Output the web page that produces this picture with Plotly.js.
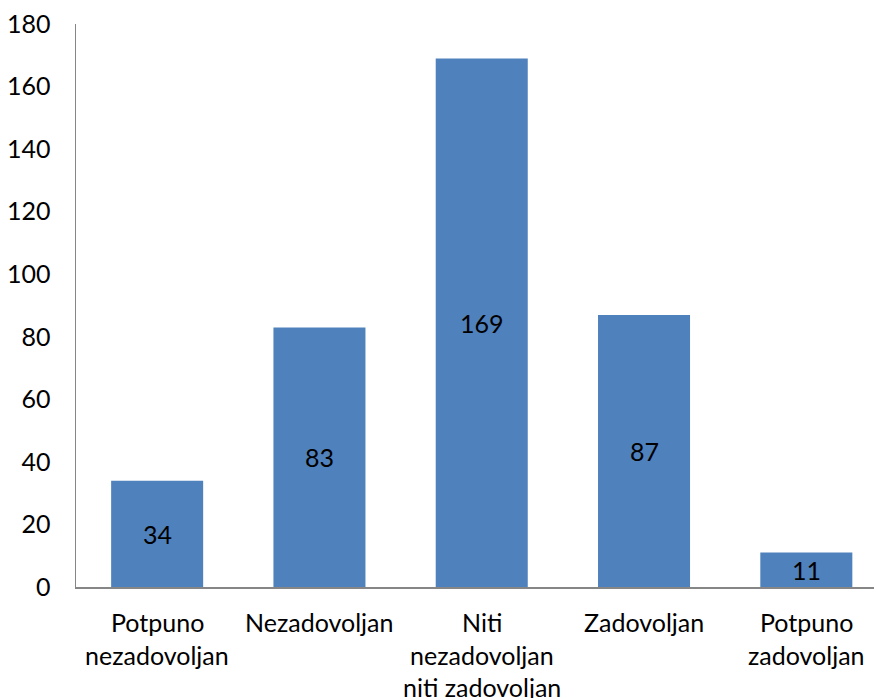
<!DOCTYPE html>
<html>
<head>
<meta charset="utf-8">
<script src="https://cdn.plot.ly/plotly-3.0.1.min.js"></script>
<style>
  html, body { margin: 0; padding: 0; background: #fff; }
  #chart { width: 874px; height: 698px; }
</style>
</head>
<body>
<div id="chart"></div>
<script>
// Satisfaction survey: number of responses per answer
const categories = ["Potpuno nezadovoljan", "Nezadovoljan", "Niti nezadovoljan niti zadovoljan", "Zadovoljan", "Potpuno zadovoljan"];
const categoryLines = [
  ["Potpuno", "nezadovoljan"],
  ["Nezadovoljan"],
  ["Niti", "nezadovoljan", "niti zadovoljan"],
  ["Zadovoljan"],
  ["Potpuno", "zadovoljan"]
];
const counts = [34, 83, 169, 87, 11];
const yTicks = [0, 20, 40, 60, 80, 100, 120, 140, 160, 180];

const FONT = "Lato, 'Open Sans', sans-serif";
const FSIZE = 25;
const W = 874, H = 698;
const margin = { l: 76, r: 0, t: 24, b: 111 };
const plotH = H - margin.t - margin.b;

const annotations = [];

// Value labels centred inside each bar, kept at full size and horizontal
counts.forEach((v, i) => {
  annotations.push({
    x: categories[i], xref: "x",
    y: v / 2, yref: "y",
    text: String(v), showarrow: false,
    xanchor: "center", yanchor: "middle",
    font: { family: FONT, size: FSIZE, color: "#000" }
  });
});

// Multi-line category labels drawn line by line under each bar
categoryLines.forEach((lines, i) => {
  lines.forEach((txt, j) => {
    annotations.push({
      x: categories[i], xref: "x",
      y: -(35 + 32.5 * j) / plotH, yref: "paper",
      text: txt, showarrow: false,
      xanchor: "center", yanchor: "middle",
      font: { family: FONT, size: FSIZE, color: "#000" }
    });
  });
});

const trace = {
  type: "bar",
  x: categories,
  y: counts,
  marker: { color: "#4F81BD", line: { width: 0 } },
  width: 0.567,
  hoverinfo: "x+y"
};

const layout = {
  width: W, height: H,
  margin: margin,
  paper_bgcolor: "#fff",
  plot_bgcolor: "#fff",
  showlegend: false,
  font: { family: FONT, size: FSIZE, color: "#000" },
  xaxis: {
    type: "category",
    range: [-0.5, 4.417],
    showticklabels: false,
    showgrid: false,
    zeroline: false,
    showline: true,
    linecolor: "#868686",
    linewidth: 1.5,
    ticks: ""
  },
  yaxis: {
    range: [0, 180],
    tickvals: yTicks,
    ticktext: yTicks.map(String),
    showgrid: false,
    zeroline: false,
    showline: true,
    linecolor: "#868686",
    linewidth: 1.5,
    ticks: "outside",
    ticklen: 19,
    tickcolor: "rgba(0,0,0,0)",
    tickfont: { family: FONT, size: FSIZE, color: "#000" }
  },
  annotations: annotations
};

Plotly.newPlot("chart", [trace], layout, { displayModeBar: false, staticPlot: true });
</script>
</body>
</html>
